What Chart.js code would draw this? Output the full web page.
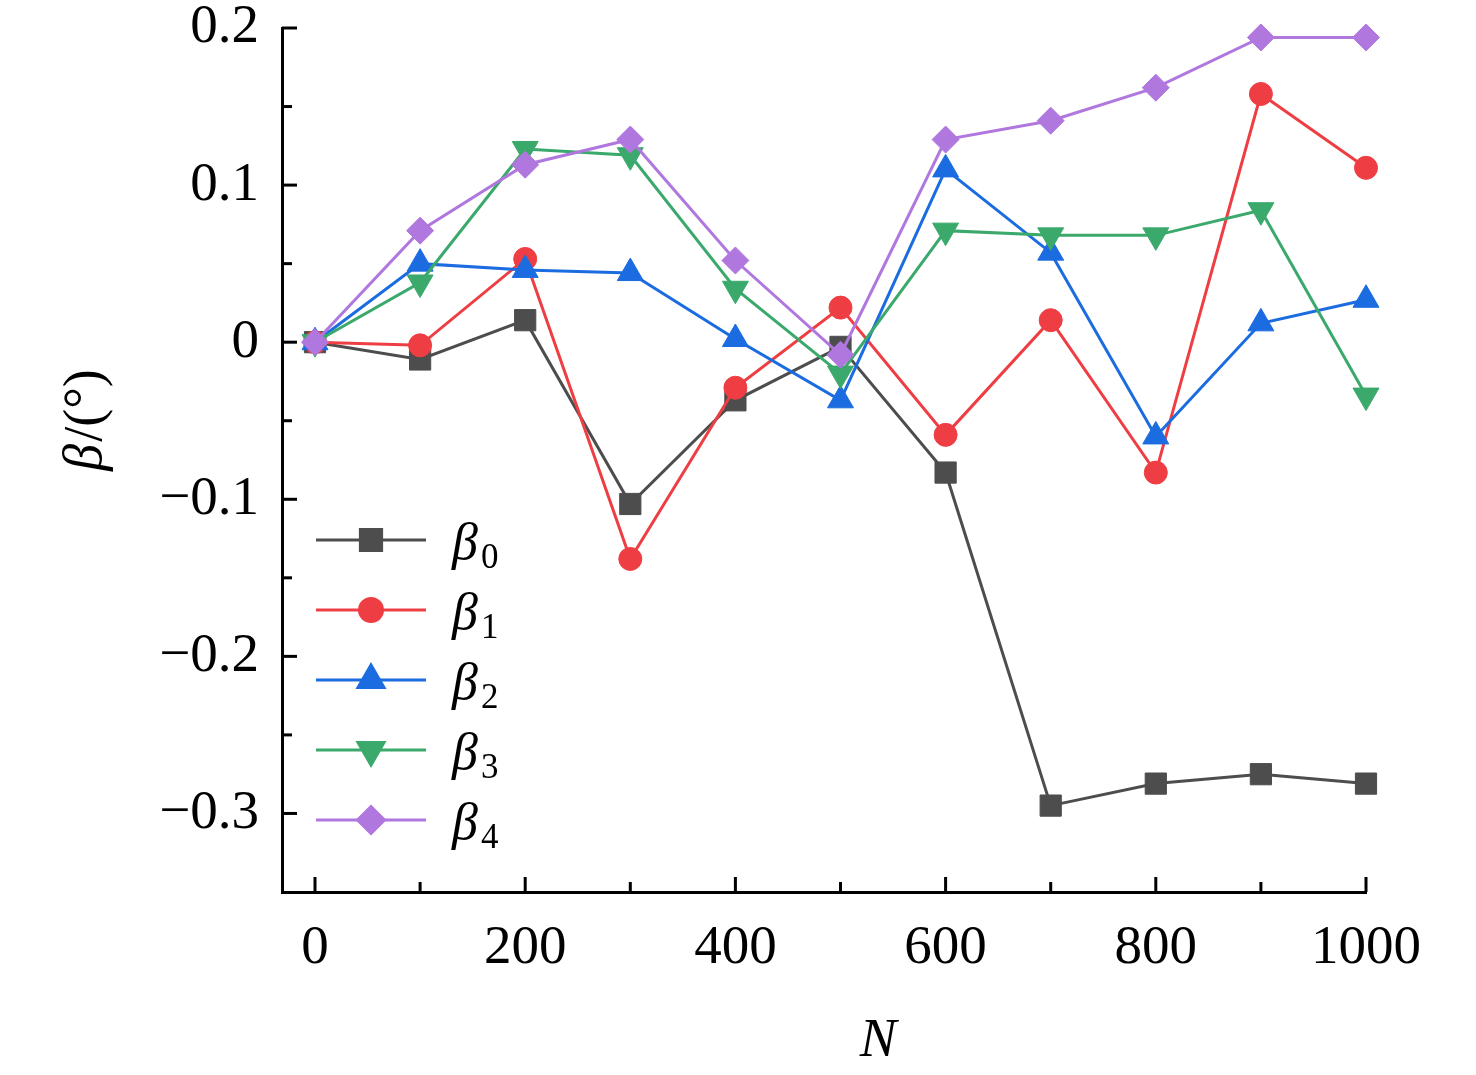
<!DOCTYPE html>
<html><head><meta charset="utf-8">
<script src="https://cdn.jsdelivr.net/npm/chart.js@4.4.1/dist/chart.umd.min.js"></script>
<style>html,body{margin:0;padding:0;background:#fff;}canvas{display:block;}</style>
</head><body>
<canvas id="c" width="1476" height="1075"></canvas>
<script>
// ---- data ----
const N = [0, 100, 200, 300, 400, 500, 600, 700, 800, 900, 1000];
const beta0 = [0, -0.011, 0.014, -0.103, -0.037, -0.003, -0.083, -0.295, -0.281, -0.275, -0.281];
const beta1 = [0, -0.002, 0.053, -0.138, -0.029, 0.022, -0.059, 0.014, -0.083, 0.158, 0.111];
const beta2 = [0, 0.050, 0.046, 0.044, 0.002, -0.037, 0.110, 0.057, -0.060, 0.012, 0.027];
const beta3 = [0, 0.038, 0.123, 0.119, 0.034, -0.020, 0.071, 0.068, 0.068, 0.084, -0.034];
const beta4 = [0, 0.071, 0.113, 0.129, 0.052, -0.008, 0.129, 0.141, 0.162, 0.194, 0.194];
const seriesSubscripts = ['0', '1', '2', '3', '4'];
const xTickValues = [0, 200, 400, 600, 800, 1000];
const xTickLabels = ['0', '200', '400', '600', '800', '1000'];
const xMinorValues = [100, 300, 500, 700, 900];
const yTickValues = [-0.3, -0.2, -0.1, 0, 0.1, 0.2];
const yTickLabels = ['\u22120.3', '\u22120.2', '\u22120.1', '0', '0.1', '0.2'];
const yMinorValues = [-0.25, -0.15, -0.05, 0.05, 0.15];
const xTitle = 'N';
const yTitleSymbol = '\u03B2';
const yTitleUnit = '/(\u00B0)';

const SERIF = "'Liberation Serif', 'Times New Roman', serif";
const colors = ['#4d4d4d', '#ef3e43', '#1b6ce0', '#3aa96b', '#b077de'];
const styles = [
  {pointStyle: 'rect', radius: 15, rotation: 0},
  {pointStyle: 'circle', radius: 11.5, rotation: 0},
  {pointStyle: 'triangle', radius: 15, rotation: 0},
  {pointStyle: 'triangle', radius: 15, rotation: 180},
  {pointStyle: 'rectRot', radius: 13.5, rotation: 0}
];
const seriesValues = [beta0, beta1, beta2, beta3, beta4];

const datasets = seriesValues.map((vals, k) => ({
  label: '\u03B2' + seriesSubscripts[k],
  data: N.map((x, i) => ({x: x, y: vals[i]})),
  borderColor: colors[k],
  backgroundColor: colors[k],
  borderWidth: 3,
  pointStyle: styles[k].pointStyle,
  pointRadius: styles[k].radius,
  pointRotation: styles[k].rotation,
  pointBorderWidth: 1,
  pointBorderColor: colors[k],
  pointBackgroundColor: colors[k],
  tension: 0,
  clip: false,
  order: 4 - k
}));

const decoPlugin = {
  id: 'deco',
  afterDatasetsDraw(chart) {
    const ctx = chart.ctx;
    const xs = chart.scales.x, ys = chart.scales.y;
    const area = chart.chartArea;
    ctx.save();
    // inward ticks
    ctx.strokeStyle = '#000';
    ctx.lineWidth = 3;
    ctx.lineCap = 'butt';
    const tick = (x1, y1, x2, y2) => { ctx.beginPath(); ctx.moveTo(x1, y1); ctx.lineTo(x2, y2); ctx.stroke(); };
    xTickValues.forEach(v => { const p = xs.getPixelForValue(v); tick(p, area.bottom, p, area.bottom - 15); });
    xMinorValues.forEach(v => { const p = xs.getPixelForValue(v); tick(p, area.bottom, p, area.bottom - 10); });
    yTickValues.forEach(v => { const p = ys.getPixelForValue(v); tick(area.left, p, area.left + 15, p); });
    yMinorValues.forEach(v => { const p = ys.getPixelForValue(v); tick(area.left, p, area.left + 10, p); });

    // legend
    const rowY = [540, 610, 680, 750, 820];
    datasets.forEach((ds, k) => {
      const y = rowY[k];
      ctx.strokeStyle = ds.borderColor;
      ctx.lineWidth = 3;
      tick(316, y, 426, y);
      ctx.fillStyle = ds.backgroundColor;
      ctx.strokeStyle = ds.borderColor;
      if (Chart.helpers && Chart.helpers.drawPoint) {
        Chart.helpers.drawPoint(ctx, {pointStyle: ds.pointStyle, radius: ds.pointRadius, rotation: ds.pointRotation, borderWidth: 1}, 371, y);
      }
      ctx.fillStyle = '#000';
      ctx.textBaseline = 'alphabetic';
      ctx.textAlign = 'left';
      ctx.font = 'italic 52px ' + SERIF;
      ctx.fillText('\u03B2', 452, y + 19);
      const w = ctx.measureText('\u03B2').width;
      ctx.font = '35px ' + SERIF;
      ctx.fillText(seriesSubscripts[k], 452 + w + 3, y + 28);
    });

    // x title
    ctx.fillStyle = '#000';
    ctx.font = 'italic 55px ' + SERIF;
    ctx.textAlign = 'center';
    ctx.textBaseline = 'alphabetic';
    ctx.fillText(xTitle, 878, 1056);

    // y title (rotated)
    ctx.translate(87, 421);
    ctx.rotate(-Math.PI / 2);
    ctx.textBaseline = 'middle';
    ctx.textAlign = 'left';
    ctx.font = 'italic 54px ' + SERIF;
    const w1 = ctx.measureText(yTitleSymbol).width;
    ctx.font = '54px ' + SERIF;
    const w2 = ctx.measureText(yTitleUnit).width;
    const start = -(w1 + w2) / 2;
    ctx.font = 'italic 54px ' + SERIF;
    ctx.fillText(yTitleSymbol, start, 0);
    ctx.font = '54px ' + SERIF;
    ctx.fillText(yTitleUnit, start + w1 + 2, 0);
    ctx.restore();
  }
};

const zeroPad = s => { s.paddingTop = 0; s.paddingBottom = 0; s.paddingLeft = 0; s.paddingRight = 0; };

new Chart(document.getElementById('c'), {
  type: 'line',
  data: {datasets: datasets},
  options: {
    responsive: false,
    animation: false,
    devicePixelRatio: 1,
    layout: {padding: {top: 28, right: 110, left: 0, bottom: 0}},
    plugins: {legend: {display: false}, tooltip: {enabled: false}},
    scales: {
      x: {
        type: 'linear', min: -31.4, max: 1000,
        afterBuildTicks: s => { s.ticks = xTickValues.map(v => ({value: v})); },
        afterFit: s => { s.height = 183; zeroPad(s); },
        ticks: {
          autoSkip: false, maxRotation: 0, padding: 29, color: '#000',
          font: {family: SERIF, size: 55, lineHeight: 1},
          callback: (v, i) => xTickLabels[i]
        },
        grid: {display: false, drawTicks: false, tickLength: 0},
        border: {display: true, color: '#000', width: 3}
      },
      y: {
        type: 'linear', min: -0.35, max: 0.2,
        afterBuildTicks: s => { s.ticks = yTickValues.map(v => ({value: v})); },
        afterFit: s => { s.width = 282; zeroPad(s); },
        ticks: {
          autoSkip: false, padding: 23, color: '#000',
          font: {family: SERIF, size: 55, lineHeight: 1},
          callback: (v, i) => yTickLabels[i]
        },
        grid: {display: false, drawTicks: false, tickLength: 0},
        border: {display: true, color: '#000', width: 3}
      }
    }
  },
  plugins: [decoPlugin]
});
</script>
</body></html>
